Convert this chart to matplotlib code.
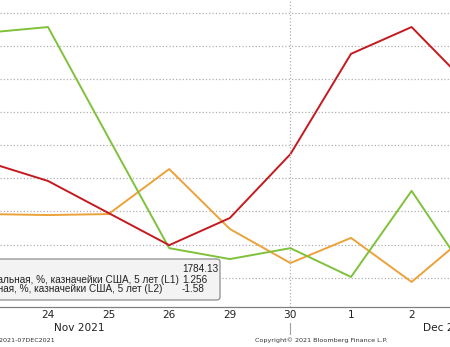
import matplotlib.pyplot as plt
from matplotlib.patches import FancyBboxPatch
from matplotlib.lines import Line2D

# trading days Nov 23 .. Dec 3 2021 (values in gridline units, no y-axis visible)
days = ['23', '24', '25', '26', '29', '30', '1', '2', '3']
red_line = [3.49, 2.92, 1.95, 0.98, 1.80, 3.73, 6.76, 7.57, 5.70]
green_line = [7.40, 7.57, 4.22, 0.89, 0.56, 0.89, 0.02, 2.62, -0.10]
orange_line = [1.92, 1.89, 1.92, 3.28, 1.47, 0.44, 1.20, -0.13, 1.41]

legend_labels = ['Золото, спот, $ за унцию (R1)',
                 'Доходность номинальная, %, казначейки США, 5 лет (L1)',
                 'Доходность реальная, %, казначейки США, 5 лет (L2)']
legend_values = ['1784.13', '1.256', '-1.58']

W, H = 450, 347
fig = plt.figure(figsize=(W / 100, H / 100), dpi=100)
plt.rcParams['font.family'] = ['DejaVu Sans']

ax = fig.add_axes([0, 1 - 307 / H, 1, 307 / H])
x = list(range(len(days)))
ax.plot(x, orange_line, color='#eba23a', lw=1.4)
ax.plot(x, green_line, color='#7fc13a', lw=1.4)
ax.plot(x, red_line, color='#c41a1f', lw=1.4)

ax.set_xticks(x)
ax.set_xticklabels(days, fontsize=7.6, color='#222222')
ax.tick_params(axis='x', length=0, pad=2)
ax.set_yticks(range(9))
ax.tick_params(axis='y', left=False, labelleft=False)
ax.set_xlim(1 - 48 / 60.6, 1 + 402 / 60.6)
ax.set_ylim(-0.888, 8.387)
ax.grid(axis='y', linestyle=':', color='#b0b0b0', lw=0.9)
ax.axvline(5, linestyle=':', color='#b0b0b0', lw=0.9)

for s in ['top', 'left', 'right']:
    ax.spines[s].set_visible(False)
ax.spines['bottom'].set_color('#808080')
ax.spines['bottom'].set_linewidth(0.9)

# month separator below the axis
xf = ax.transData.transform((5, 0))[0] / W
fig.add_artist(Line2D([xf, xf], [1 - 323 / H, 1 - 334 / H], color='#a0a0a0', lw=0.8))

fig.text(79 / W, 1 - 328 / H, 'Nov 2021', fontsize=7.6, ha='center', va='center', color='#222222')
fig.text(423 / W, 1 - 328 / H, 'Dec 2021', fontsize=7.6, ha='left', va='center', color='#222222')
fig.text(255 / W, 1 - 340 / H, 'Copyright© 2021 Bloomberg Finance L.P.', fontsize=4.6,
         ha='left', va='center', color='#333333')
fig.text(55 / W, 1 - 340 / H, '23NOV2021-07DEC2021', fontsize=4.6, ha='right', va='center',
         color='#333333')

# legend box (left part cut off)
box = FancyBboxPatch((-30 / W, 1 - 300 / H), 250 / W, 41 / H,
                     boxstyle='round,pad=0,rounding_size=0.008', transform=fig.transFigure,
                     facecolor='#f3f3f3', edgecolor='#8c8c8c', lw=0.9, zorder=5)
fig.add_artist(box)
rows_y = [269.5, 280, 289]
label_right = [None, 179, 162]
lf = dict(fontsize=7.2, family='Liberation Sans', va='center', color='#222222', zorder=6)
for i in range(3):
    fig.text(182 / W, 1 - rows_y[i] / H, legend_values[i], ha='left', **lf)
    if label_right[i] is not None:
        fig.text(label_right[i] / W, 1 - rows_y[i] / H, legend_labels[i], ha='right', **lf)
fig.text(-260 / W, 1 - rows_y[0] / H, legend_labels[0], ha='left', **lf)

fig.savefig('out.png', dpi=100)
